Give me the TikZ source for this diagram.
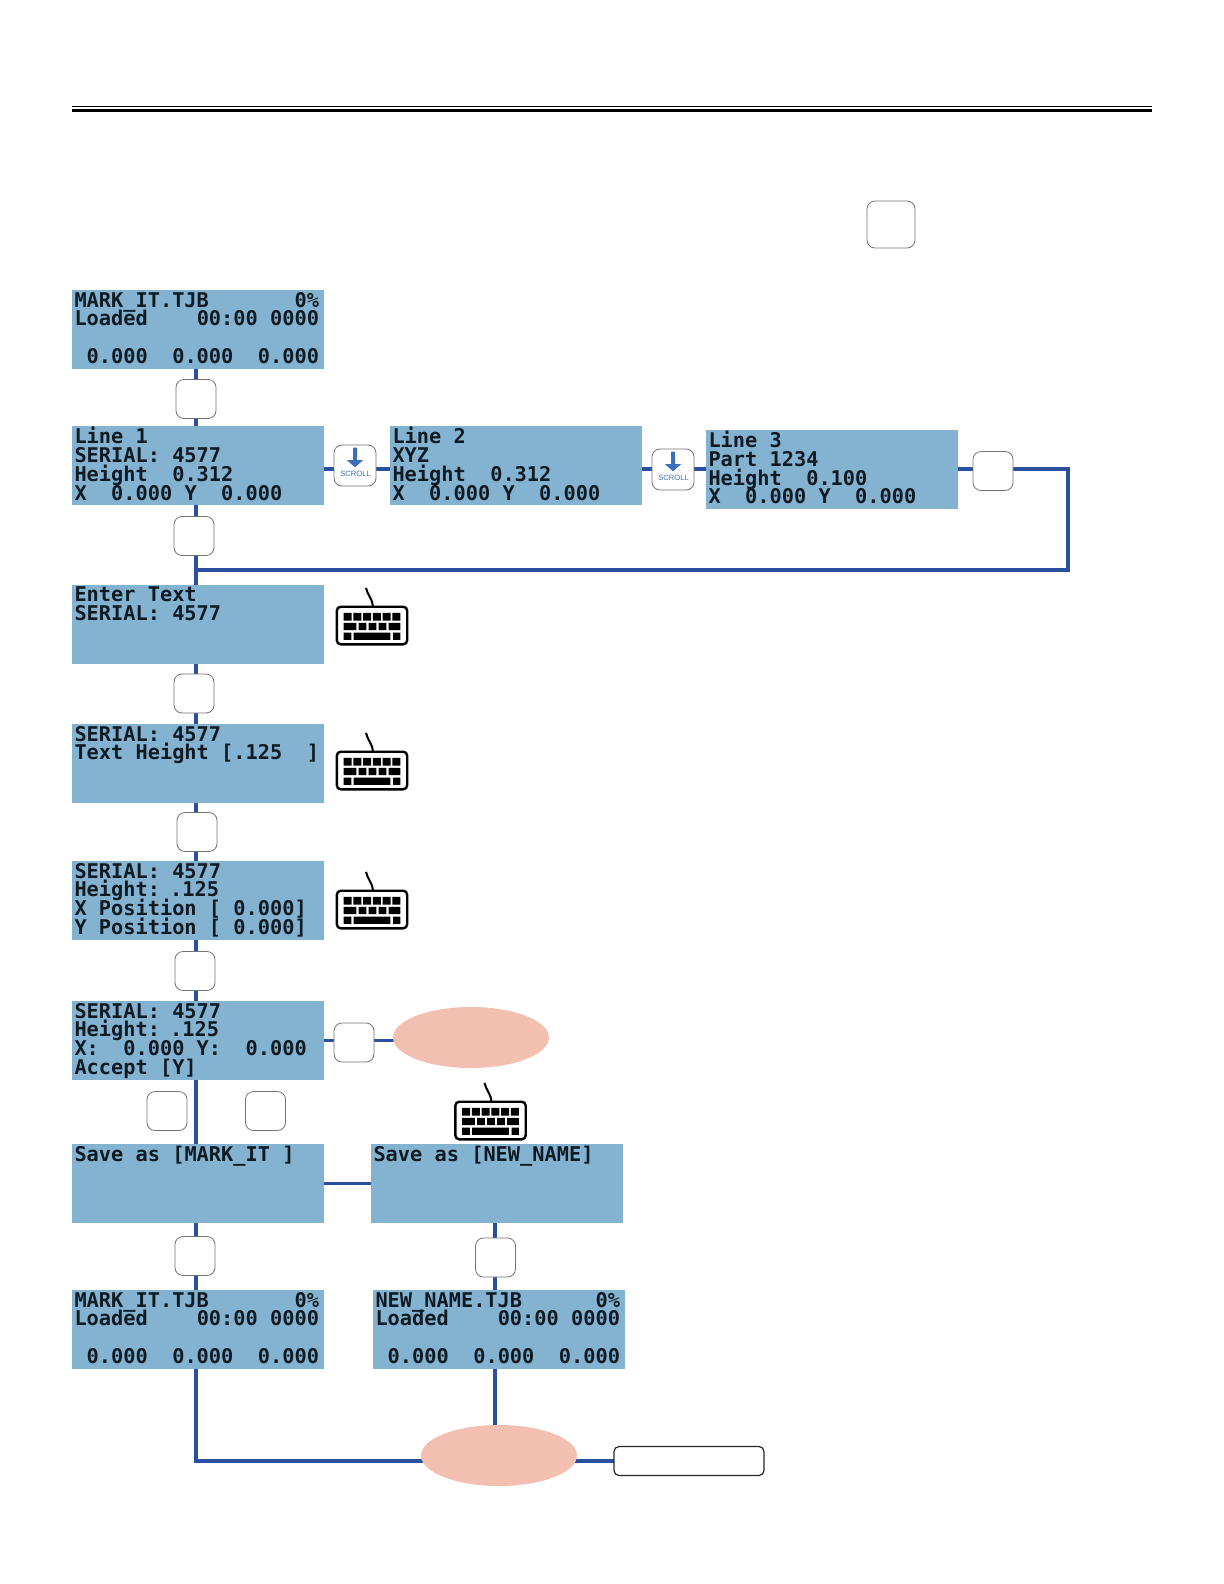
\documentclass[tikz,border=0pt]{standalone}
\usepackage{fontspec}
\setmainfont{Liberation Sans}
\setmonofont{DejaVu Sans Mono}[Kerning=Off]
\usepackage{xcolor}
\usepackage{tikz}
\usetikzlibrary{positioning,shapes.geometric,backgrounds}
\definecolor{lcdblue}{HTML}{84B3D2}
\definecolor{lcdink}{HTML}{101A22}
\definecolor{wireblue}{HTML}{2A4F9E}
\definecolor{iconblue}{HTML}{3B6FB6}
\definecolor{bubble}{HTML}{F2BFB0}
\newcommand{\lcdlines}[4]{\lineskiplimit=-9pt\spaceskip=6.12pt\rule{0pt}{7pt}#1\\#2\\#3\\\smash{#4}\rule[-1.65pt]{0pt}{1.65pt}}
\tikzset{
  every node/.append style={outer sep=0pt},
  lcdbox/.style={fill=lcdblue, inner xsep=1.25pt, inner ysep=0pt, minimum width=126pt, minimum height=39.5pt, text width=123.5pt, align=left, text=lcdink, font=\ttfamily\bfseries\fontsize{10.15}{9.45}\selectfont},
  keycap/.style={draw=black!55, fill=white, line width=0.4pt, rounded corners=4pt, inner sep=0pt, minimum width=20pt, minimum height=19.5pt},
  scrollcap/.style={keycap, minimum width=21pt, minimum height=20.5pt},
  bubblenode/.style={ellipse, fill=bubble, inner sep=0pt, minimum width=78pt, minimum height=30.5pt},
  wire/.style={draw=wireblue, line width=1.7pt},
  scrollicon/.pic={
    \fill[iconblue] (-1pt,8.9pt)--(1pt,8.9pt)--(1pt,2.75pt)--(4.15pt,2.75pt)--(0pt,-0.9pt)--(-4.15pt,2.75pt)--(-1pt,2.75pt)--cycle;
    \node[inner sep=0pt, text=iconblue, font=\fontsize{3.8}{4}\selectfont] (-tag) at (0.3pt,-4.25pt) {SCROLL};
  },
  keybd/.pic={
    \draw[black, line width=1.2pt, rounded corners=2pt] (-17.6pt,-9.4pt) rectangle (17.6pt,9.4pt);
    \draw[black, line width=1pt] (-3pt,18.8pt) .. controls (-2.4pt,15.5pt) and (0.4pt,13pt) .. (0.5pt,9.5pt);
    \fill[black] (-14.2pt,2.5pt) rectangle (-10.2pt,6.3pt) (-9.3pt,2.5pt) rectangle (-5.3pt,6.3pt) (-4.4pt,2.5pt) rectangle (-0.4pt,6.3pt) (0.4pt,2.5pt) rectangle (4.4pt,6.3pt) (5.3pt,2.5pt) rectangle (9.3pt,6.3pt) (10.2pt,2.5pt) rectangle (14.2pt,6.3pt);
    \fill[black] (-14.2pt,-2.3pt) rectangle (-7.8pt,1.3pt) (-6.7pt,-2.3pt) rectangle (-2.8pt,1.3pt) (-1.7pt,-2.3pt) rectangle (2.2pt,1.3pt) (3.3pt,-2.3pt) rectangle (7.2pt,1.3pt) (8.3pt,-2.3pt) rectangle (14.2pt,1.3pt);
    \fill[black] (-14.2pt,-7.2pt) rectangle (-10.3pt,-3.5pt) (-9.2pt,-7.2pt) rectangle (9.2pt,-3.5pt) (10.5pt,-7.2pt) rectangle (14.2pt,-3.5pt);
  }
}
\begin{document}
\begin{tikzpicture}
\useasboundingbox (0,0) rectangle (612pt,-792pt);
\draw[black, line width=0.5pt] (36pt,-53.25pt)--(576pt,-53.25pt);
\draw[black, line width=1.5pt] (36pt,-55.25pt)--(576pt,-55.25pt);
\node[keycap, minimum width=24pt, minimum height=23.5pt] (ktop) at (445.5pt,-112.25pt) {};

\coordinate (trunk) at (98pt,0);
\coordinate (trunkb) at (247.5pt,0);
\coordinate (rtn) at (534pt,-285pt);

\node[lcdbox] (s1) at (99pt,-164.75pt) {\lcdlines{MARK\_IT.TJB~~~~~~~0\%}{Loaded~~~~00:00~0000}{~}{~0.000~~0.000~~0.000}};
\node[lcdbox, below=28.5pt of s1] (s2) {\lcdlines{Line 1}{SERIAL: 4577}{Height~~0.312}{X~~0.000~Y~~0.000}};
\node[lcdbox, right=33pt of s2] (l2) {\lcdlines{Line 2}{XYZ}{Height~~0.312}{X~~0.000~Y~~0.000}};
\node[lcdbox, right=32pt of l2, yshift=-1.75pt] (l3) {\lcdlines{Line 3}{Part 1234}{Height~~0.100}{X~~0.000~Y~~0.000}};
\node[lcdbox, below=40pt of s2] (en) {\lcdlines{Enter Text}{SERIAL: 4577}{~}{~}};
\node[lcdbox, below=30pt of en] (tx) {\lcdlines{SERIAL: 4577}{Text Height [.125~~]}{~}{~}};
\node[lcdbox, below=29pt of tx] (po) {\lcdlines{SERIAL: 4577}{Height: .125}{X Position [ 0.000]}{Y Position [ 0.000]}};
\node[lcdbox, below=30.5pt of po] (ac) {\lcdlines{SERIAL: 4577}{Height: .125}{X:~~0.000~Y:~~0.000}{Accept [Y]}};
\node[lcdbox, below=32pt of ac] (sv) {\lcdlines{Save as [MARK\_IT ]}{~}{~}{~}};
\node[lcdbox, right=23.5pt of sv, minimum width=125.5pt] (sn) {\lcdlines{Save as [NEW\_NAME]}{~}{~}{~}};
\node[lcdbox, below=33.5pt of sv] (mk) {\lcdlines{MARK\_IT.TJB~~~~~~~0\%}{Loaded~~~~00:00~0000}{~}{~0.000~~0.000~~0.000}};
\node[lcdbox, right=24.5pt of mk] (nn) {\lcdlines{NEW\_NAME.TJB~~~~~~0\%}{Loaded~~~~00:00~0000}{~}{~0.000~~0.000~~0.000}};

\node[keycap, below=5.25pt of s1, xshift=-1pt] (k1) {};
\node[scrollcap, right=5pt of s2] (c1) {};
\node[scrollcap, right=5pt of l2, yshift=-2pt] (c2) {};
\node[keycap, right=7.5pt of l3, yshift=-1pt] (k2) {};
\node[keycap, below=5.75pt of s2, xshift=-2pt] (k3) {};
\node[keycap, below=5pt of en, xshift=-2pt] (k4) {};
\node[keycap, below=4.75pt of tx, xshift=-0.5pt] (k5) {};
\node[keycap, below=5.75pt of po, xshift=-1.5pt] (k6) {};
\node[keycap, right=5pt of ac, yshift=-1pt] (k7) {};
\node[keycap, below=5.75pt of ac, xshift=-15.5pt] (k8) {};
\node[keycap, below=5.75pt of ac, xshift=33.75pt] (k9) {};
\node[keycap, below=6.75pt of sv, xshift=-1.5pt] (k10) {};
\node[keycap, below=7.5pt of sn, xshift=-0.75pt] (k11) {};

\node[bubblenode, right=9.5pt of k7, yshift=2.5pt] (e1) {};
\node[bubblenode, below=28pt of nn] (e2) {};
\node[draw=black!85, fill=white, line width=0.6pt, rounded corners=2.5pt, minimum width=75pt, minimum height=14.5pt, inner sep=0pt, right=18.5pt of e2, yshift=-2.75pt] (bx) {};

\pic (i1) at (c1) {scrollicon};
\pic (i2) at (c2) {scrollicon};
\pic (b1) at ([xshift=24pt,yshift=-0.5pt]en.east) {keybd};
\pic (b2) at ([xshift=24pt,yshift=-3.5pt]tx.east) {keybd};
\pic (b3) at ([xshift=24pt,yshift=-4.5pt]po.east) {keybd};
\pic (b4) at ([xshift=-3.25pt,yshift=11.75pt]sn.north) {keybd};

\begin{scope}[on background layer]
\draw[wire] (s1.south-|trunk)--(k1.north-|trunk);
\draw[wire] (k1.south-|trunk)--(s2.north-|trunk);
\draw[wire] (s2.south-|trunk)--(k3.north-|trunk);
\draw[wire] (k3.south-|trunk)--(en.north-|trunk);
\draw[wire] (en.south-|trunk)--(k4.north-|trunk);
\draw[wire] (k4.south-|trunk)--(tx.north-|trunk);
\draw[wire] (tx.south-|trunk)--(k5.north-|trunk);
\draw[wire] (k5.south-|trunk)--(po.north-|trunk);
\draw[wire] (po.south-|trunk)--(k6.north-|trunk);
\draw[wire] (k6.south-|trunk)--(ac.north-|trunk);
\draw[wire] (ac.south-|trunk)--(sv.north-|trunk);
\draw[wire] (sv.south-|trunk)--(k10.north-|trunk);
\draw[wire] (k10.south-|trunk)--(mk.north-|trunk);
\draw[wire] (s2.east|-l3.east)--(c1.west|-l3.east); \draw[wire] (c1.east|-l3.east)--(l2.west|-l3.east);
\draw[wire] (l2.east|-l3.east)--(c2.west|-l3.east); \draw[wire] (c2.east|-l3.east)--(l3.west);
\draw[wire] (l3.east)--(k2.west|-l3.east);
\draw[wire] (k2.east|-l3.east)-|(rtn)--(rtn-|trunk);
\draw[wire] (ac.east)--(k7.west|-ac.east); \draw[wire] (k7.east|-ac.east)--(e1.center|-ac.east);
\draw[wire] (sv.east)--(sn.west);
\draw[wire] (sn.south-|trunkb)--(k11.north-|trunkb);
\draw[wire] (k11.south-|trunkb)--(nn.north-|trunkb);
\draw[wire] (nn.south-|trunkb)--(e2.center-|trunkb);
\draw[wire] (mk.south-|trunk)|-(e2.center|-bx.west);
\draw[wire] (e2.center|-bx.west)--(bx.west);
\end{scope}
\end{tikzpicture}
\end{document}
